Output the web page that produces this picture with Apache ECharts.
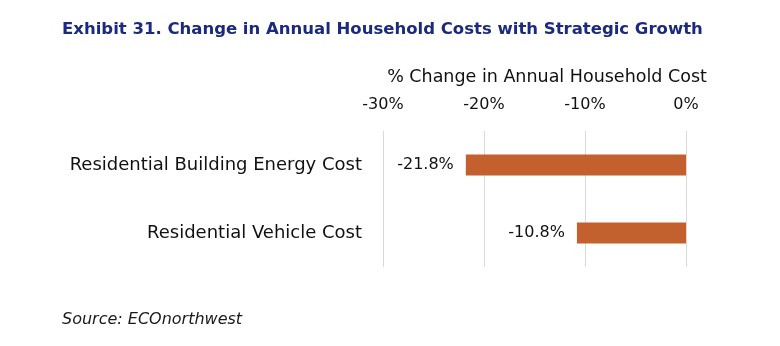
<!DOCTYPE html>
<html>
<head>
<meta charset="utf-8">
<script src="https://cdn.jsdelivr.net/npm/echarts@6/dist/echarts.min.js"></script>
<style>
html,body{margin:0;padding:0;background:#fff;}
#c{width:780px;height:346px;}
</style>
</head>
<body>
<div id="c"></div>
<script>
const titleText = "Exhibit 31. Change in Annual Household Costs with Strategic Growth";
const sourceText = "Source: ECOnorthwest";
const axisName = "% Change in Annual Household Cost";
const categories = ["Residential Building Energy Cost", "Residential Vehicle Cost"];
const values = [-21.8, -10.8];
const tickMin = -30, tickMax = 0, tickStep = 10;

const FONT = "DejaVu Sans";
const chart = echarts.init(document.getElementById('c'), null, {renderer: 'canvas'});
chart.setOption({
  animation: false,
  backgroundColor: '#fff',
  textStyle: {fontFamily: FONT},
  title: [
    {text: titleText, left: 57, top: 16,
     textStyle: {fontFamily: FONT, fontSize: 16.5, fontWeight: 'bold', color: '#1b2a7e'}},
    {text: sourceText, left: 57, top: 307,
     textStyle: {fontFamily: FONT, fontSize: 16, fontStyle: 'italic', fontWeight: 'normal', color: '#1a1a1a'}}
  ],
  grid: {left: 383, right: 94, top: 131, bottom: 79, containLabel: false},
  xAxis: {
    type: 'value', position: 'top', min: tickMin, max: tickMax, interval: tickStep,
    name: axisName, nameLocation: 'middle', nameGap: 45,
    nameTextStyle: {fontFamily: FONT, fontSize: 17.5, color: '#111', padding: [0, 0, 0, 25]},
    axisLine: {show: false}, axisTick: {show: false},
    axisLabel: {fontFamily: FONT, fontSize: 16, color: '#111', margin: 18,
      formatter: v => v + '%'},
    splitLine: {show: true, lineStyle: {color: '#d9d9d9', width: 1}}
  },
  yAxis: {
    type: 'category', data: categories, inverse: true,
    axisLine: {show: false}, axisTick: {show: false},
    axisLabel: {fontFamily: FONT, fontSize: 18, color: '#111', margin: 21}
  },
  series: [{
    type: 'bar', data: values, barWidth: '31%',
    itemStyle: {color: '#c4602d'},
    label: {show: true, position: 'left', distance: 12, fontFamily: FONT, fontSize: 16, color: '#111',
      formatter: p => p.value.toFixed(1) + '%'}
  }]
});
</script>
</body>
</html>
